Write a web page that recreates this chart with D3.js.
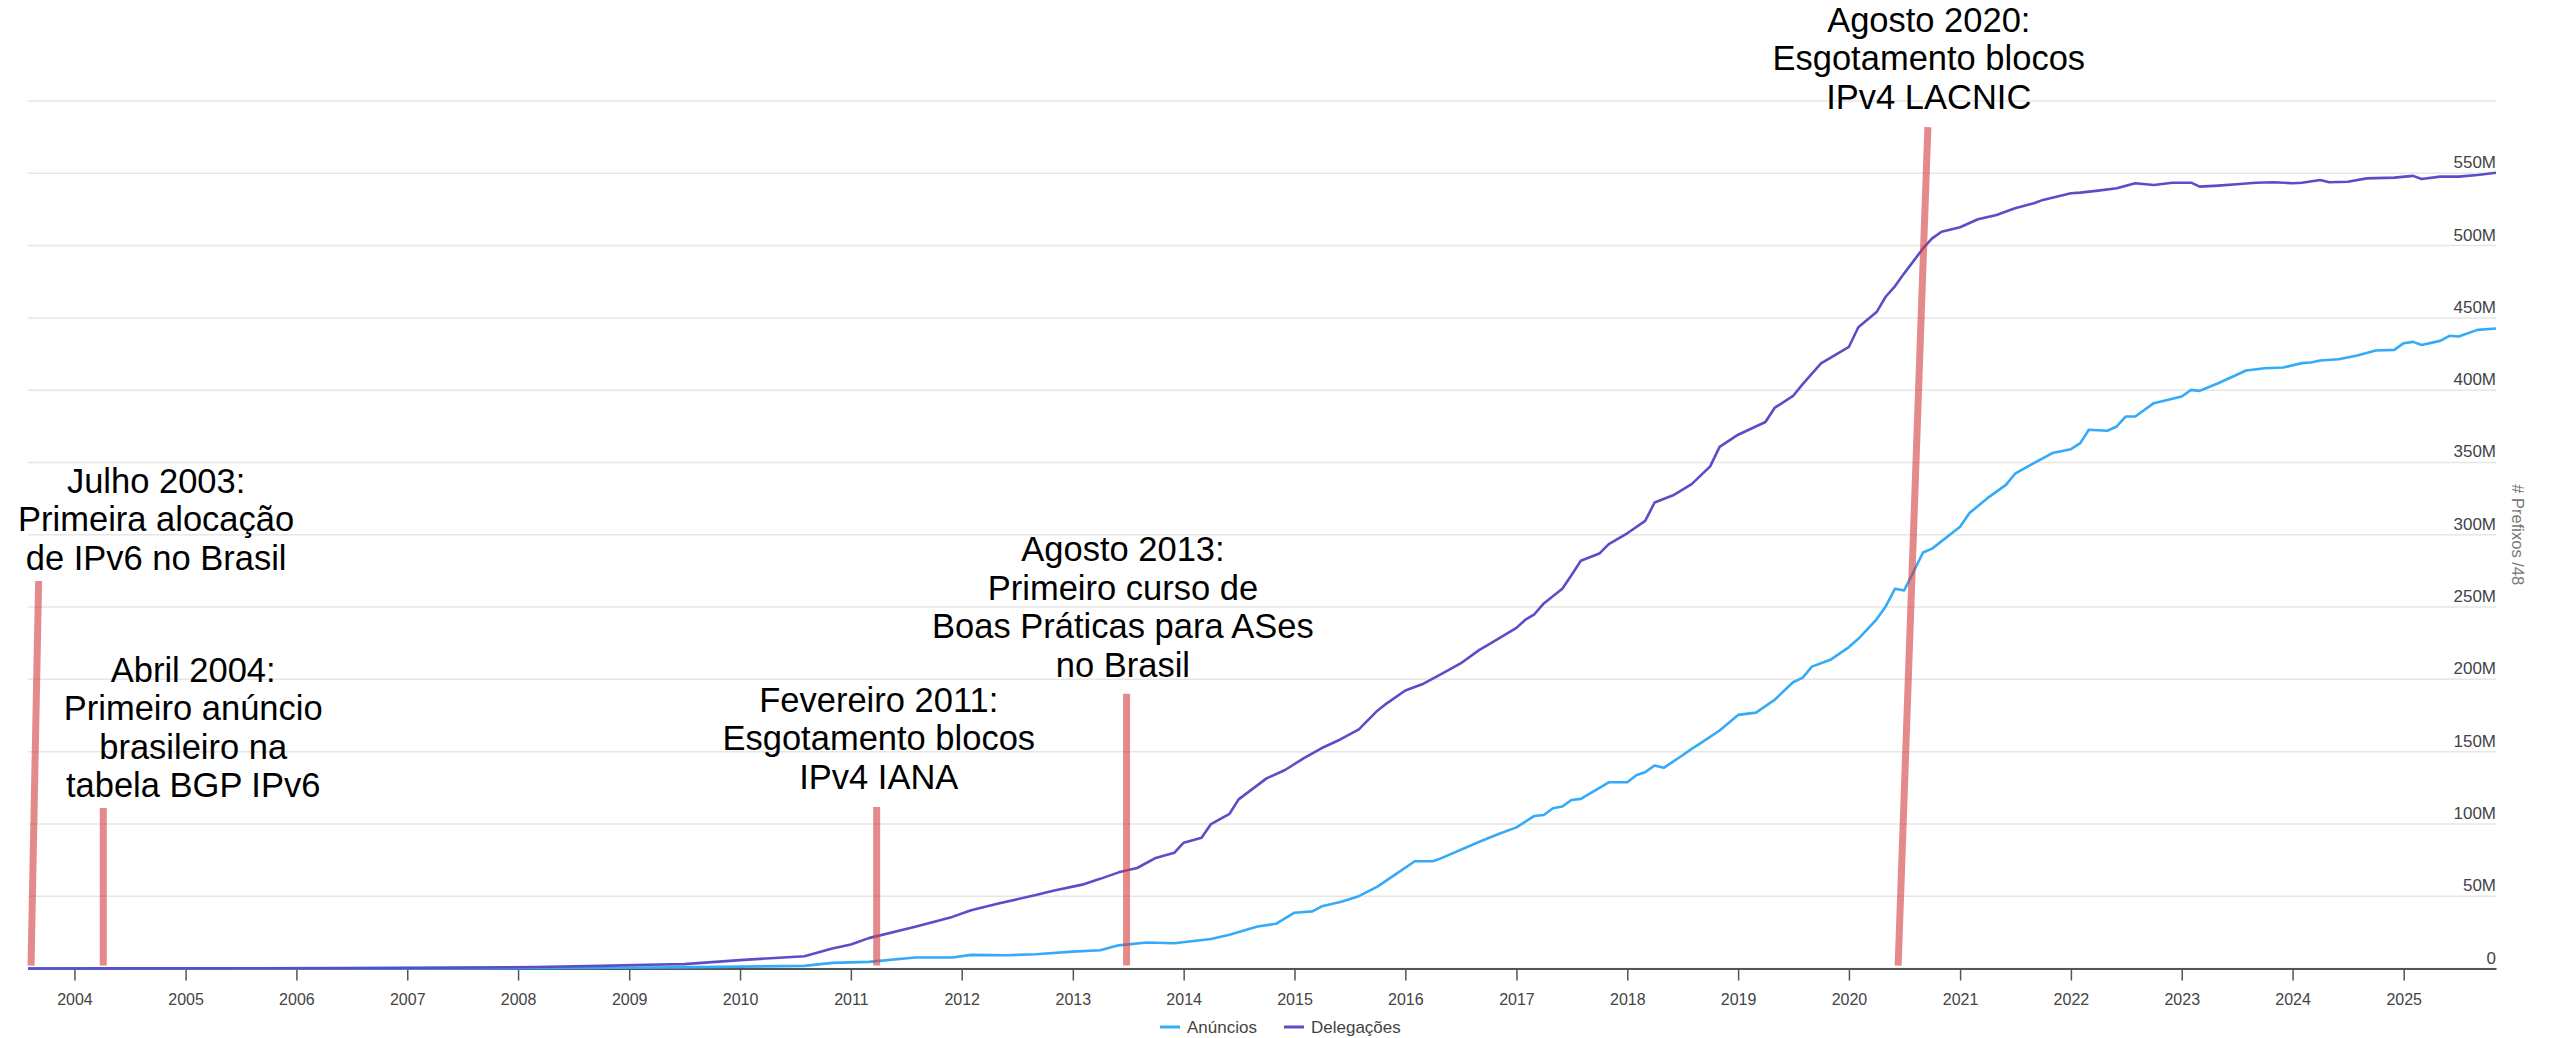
<!DOCTYPE html>
<html>
<head>
<meta charset="utf-8">
<script src="https://cdn.jsdelivr.net/npm/d3@7"></script>
<style>
  body { margin: 0; background: #fff; }
  svg text { font-family: "Liberation Sans", Arial, sans-serif; }
</style>
</head>
<body>
<svg id="chart"></svg>
<script>
// --- data (values in millions of /48 prefixes) ---
var delegDates = ["2003-08","2004-06","2005-06","2006-06","2007-06","2008-03","2008-10","2009-03","2009-07","2010-01",
  "2010-08","2010-11","2011-01","2011-03","2011-08","2011-12","2012-02","2012-05","2012-09","2012-11",
  "2013-02","2013-04","2013-06","2013-08","2013-10","2013-12","2014-01","2014-03","2014-04","2014-06",
  "2014-07","2014-10","2014-12","2015-02","2015-04","2015-06","2015-08","2015-10","2015-11","2016-01",
  "2016-03","2016-05","2016-07","2016-09","2016-10","2017-01","2017-02","2017-03","2017-04","2017-06",
  "2017-07","2017-08","2017-10","2017-11","2018-01","2018-03","2018-04","2018-06","2018-08","2018-10",
  "2018-11","2019-01","2019-04","2019-05","2019-07","2019-08","2019-10","2020-01","2020-02","2020-04",
  "2020-05","2020-06","2020-07","2020-09","2020-10","2020-11","2021-01","2021-03","2021-05","2021-07",
  "2021-09","2021-10","2022-01","2022-02","2022-04","2022-06","2022-08","2022-10","2022-12","2023-02",
  "2023-03","2023-05","2023-07","2023-09","2023-11","2024-01","2024-02","2024-04","2024-05","2024-07",
  "2024-09","2024-12","2025-02","2025-03","2025-05","2025-07","2025-09","2025-11"];
var delegValues = [0,0.1,0.2,0.3,0.6,1.0,1.8,2.6,3.0,5.8,
  8.5,13.8,16.6,21,28.8,35.7,40.3,45,50.8,54,
  58,62,66.5,69.5,76.5,80,87,90.5,99.9,107,
  117,131.5,137.3,145.5,152.5,158.4,165.4,178.3,183.4,192.3,
  197,204,211,220.4,224,235.6,241.5,245,252.5,262.6,
  272,282,287,293.5,301,309.6,322.3,327.3,335,347.3,
  360.8,369.2,378,387.7,396,404,418.5,430,443.5,454,
  464.6,472,480.8,498,505,509.6,512.7,518.2,521.2,525.8,
  529.3,531.6,536.2,536.6,538,539.6,543.1,541.9,543.5,543.5,
  540.8,541.5,542.4,543.5,543.8,543.1,543.5,545.4,543.8,544.2,
  546.5,547,548.2,546,547.7,547.7,548.8,550.4];

var anuncDates = ["2003-08","2005-06","2007-06","2008-06","2009-06","2010-01","2010-08","2010-11","2011-03","2011-08",
  "2011-12","2012-02","2012-06","2012-09","2013-01","2013-04","2013-06","2013-09","2013-12","2014-04",
  "2014-06","2014-09","2014-11","2015-01","2015-03","2015-04","2015-06","2015-08","2015-10","2015-12",
  "2016-02","2016-04","2016-05","2016-09","2016-11","2017-01","2017-03","2017-04","2017-05","2017-06",
  "2017-07","2017-08","2017-11","2018-01","2018-02","2018-03","2018-04","2018-05","2018-07","2018-08",
  "2018-09","2018-11","2019-01","2019-03","2019-05","2019-07","2019-08","2019-09","2019-11","2020-01",
  "2020-02","2020-04","2020-05","2020-06","2020-07","2020-09","2020-10","2021-01","2021-02","2021-04",
  "2021-06","2021-07","2021-09","2021-11","2022-01","2022-02","2022-03","2022-05","2022-06","2022-07",
  "2022-08","2022-10","2023-01","2023-02","2023-03","2023-05","2023-08","2023-10","2023-12","2024-02",
  "2024-03","2024-04","2024-06","2024-08","2024-10","2024-12","2025-01","2025-02","2025-03","2025-05",
  "2025-06","2025-07","2025-09","2025-11"];
var anuncValues = [0,0.05,0.1,0.3,0.8,1.3,1.8,3.9,4.6,7.6,
  7.6,9.4,9.2,9.9,11.7,12.6,16,18,17.5,20.4,
  23.4,29,30.9,38.6,39.5,43,46,50,56.6,65.3,
  74.2,74.2,76.5,87.7,92.9,97.6,105.5,106.2,110.8,112,
  116.5,117.3,128.8,128.8,133.8,135.8,140.4,138.8,147.3,151.9,
  156,164.6,175.4,177,185.8,198,201,208.8,213.5,222.3,
  228,241.5,250.4,262.7,261.5,287.7,290.4,305.5,315,325.3,
  334.5,342.2,349.5,356.5,359.2,363.4,372.6,371.9,374.9,381.8,
  381.8,391,395.6,400.2,399.5,404.8,413.6,415.2,415.7,418.7,
  419.1,420.5,421.4,424,427.4,427.9,432.5,433.4,431.3,434.1,
  437.6,437.1,441.7,442.6];

var seriesNames = ["Anúncios", "Delegações"];
var seriesColors = ["#35aaf8", "#5a4ec8"];

var yTickValues = [0,50,100,150,200,250,300,350,400,450,500,550];
var yGridValues = [0,50,100,150,200,250,300,350,400,450,500,550,600];

// annotations: red marker (base -> tip) and label anchor
var annotLabels = [
  ["Julho 2003:", "Primeira alocação", "de IPv6 no Brasil"],
  ["Abril 2004:", "Primeiro anúncio", "brasileiro na", "tabela BGP IPv6"],
  ["Fevereiro 2011:", "Esgotamento blocos", "IPv4 IANA"],
  ["Agosto 2013:", "Primeiro curso de", "Boas Práticas para ASes", "no Brasil"],
  ["Agosto 2020:", "Esgotamento blocos", "IPv4 LACNIC"]
];
var annotBaseDates = ["2003-08-11","2004-04-05","2011-03-27","2013-06-27","2020-06-11"];
var annotTipDates = ["2003-09-05","2004-04-05","2011-03-27","2013-06-27","2020-09-17"];
var annotTipValues = [268, 111, 111.7, 190, 582];
var annotLabelDates = ["2004-09-26","2005-01-26","2011-04-03","2013-06-15","2020-09-20"];
var annotLabelValues = [329, 198.4, 177.6, 281.8, 647.9];

// --- setup ---
var width = 2553, height = 1038;
var plotLeft = 28, plotRight = 2496, plotTop = 101, plotBottom = 968.5;

var parseMonth = d3.timeParse("%Y-%m");
var parseDay = d3.timeParse("%Y-%m-%d");

var svg = d3.select("#chart")
  .attr("width", width)
  .attr("height", height);

var x = d3.scaleTime()
  .domain([parseMonth("2003-08"), parseMonth("2025-11")])
  .range([plotLeft, plotRight]);

var y = d3.scaleLinear()
  .domain([0, 600])
  .range([plotBottom, plotTop]);

// grid lines
svg.append("g").selectAll("line")
  .data(yGridValues).enter()
  .append("line")
  .attr("x1", plotLeft).attr("x2", plotRight)
  .attr("y1", function(d){ return y(d); })
  .attr("y2", function(d){ return y(d); })
  .attr("stroke", "#e6e6e6")
  .attr("stroke-width", 1.5);

// right-hand value labels
svg.append("g").selectAll("text")
  .data(yTickValues).enter()
  .append("text")
  .attr("x", plotRight)
  .attr("y", function(d){ return y(d) - 5; })
  .attr("text-anchor", "end")
  .attr("font-size", 17)
  .attr("fill", "#444")
  .text(function(d){ return d === 0 ? "0" : d + "M"; });

svg.append("text")
  .attr("transform", "translate(2518," + ((plotTop + plotBottom) / 2) + ") rotate(90)")
  .attr("text-anchor", "middle")
  .attr("dominant-baseline", "central")
  .attr("font-size", 16.5)
  .attr("fill", "#777")
  .text("# Prefixos /48");

// x axis
var xAxis = d3.axisBottom(x)
  .ticks(d3.timeYear.every(1))
  .tickFormat(d3.timeFormat("%Y"))
  .tickSize(12)
  .tickSizeOuter(0)
  .tickPadding(13);

var gx = svg.append("g")
  .attr("transform", "translate(0," + plotBottom + ")")
  .call(xAxis);
gx.select(".domain").attr("stroke", "#555").attr("stroke-width", 2);
gx.selectAll(".tick line").attr("stroke", "#555").attr("stroke-width", 1.5);
gx.selectAll(".tick text")
  .attr("font-size", 16)
  .attr("font-family", "Liberation Sans, Arial, sans-serif")
  .attr("fill", "#444");

// series lines
var line = d3.line()
  .x(function(d){ return x(d.date); })
  .y(function(d){ return y(d.value); });

var anunc = anuncDates.map(function(d, i){ return {date: parseMonth(d), value: anuncValues[i]}; });
var deleg = delegDates.map(function(d, i){ return {date: parseMonth(d), value: delegValues[i]}; });

[anunc, deleg].forEach(function(s, i){
  svg.append("path")
    .datum(s)
    .attr("fill", "none")
    .attr("stroke", seriesColors[i])
    .attr("stroke-width", 2.6)
    .attr("stroke-linejoin", "round")
    .attr("d", line);
});

// annotation markers
annotLabels.forEach(function(lines, i){
  svg.append("line")
    .attr("x1", x(parseDay(annotBaseDates[i])))
    .attr("y1", y(2))
    .attr("x2", x(parseDay(annotTipDates[i])))
    .attr("y2", y(annotTipValues[i]))
    .attr("stroke", "#d43c3c")
    .attr("stroke-opacity", 0.6)
    .attr("stroke-width", 7);

  var t = svg.append("text")
    .attr("text-anchor", "middle")
    .attr("font-size", 34.5)
    .attr("fill", "#000");
  var lx = x(parseDay(annotLabelDates[i]));
  var ly = y(annotLabelValues[i]);
  lines.forEach(function(l, k){
    t.append("tspan")
      .attr("x", lx)
      .attr("y", ly + k * 38.5)
      .text(l);
  });
});

// legend
var legendX = [1160, 1284];
var legend = svg.append("g");
seriesNames.forEach(function(name, i){
  legend.append("line")
    .attr("x1", legendX[i]).attr("x2", legendX[i] + 20)
    .attr("y1", 1027).attr("y2", 1027)
    .attr("stroke", seriesColors[i])
    .attr("stroke-width", 3);
  legend.append("text")
    .attr("x", legendX[i] + 27)
    .attr("y", 1027)
    .attr("dominant-baseline", "central")
    .attr("font-size", 17)
    .attr("fill", "#444")
    .text(name);
});
</script>
</body>
</html>
